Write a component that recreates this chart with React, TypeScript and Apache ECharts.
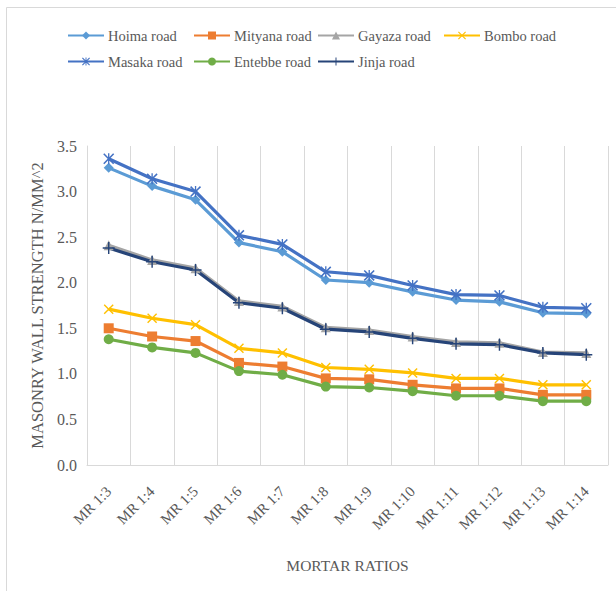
import React, { useEffect, useRef } from "react";
import * as echarts from "echarts";

const categories = [
  "MR 1:3", "MR 1:4", "MR 1:5", "MR 1:6", "MR 1:7", "MR 1:8",
  "MR 1:9", "MR 1:10", "MR 1:11", "MR 1:12", "MR 1:13", "MR 1:14",
];

const hoima = [3.26, 3.06, 2.91, 2.44, 2.34, 2.03, 2.0, 1.9, 1.81, 1.79, 1.67, 1.66];
const mityana = [1.5, 1.41, 1.36, 1.12, 1.08, 0.95, 0.94, 0.88, 0.84, 0.84, 0.77, 0.77];
const gayaza = [2.41, 2.25, 2.16, 1.8, 1.74, 1.51, 1.48, 1.41, 1.35, 1.34, 1.24, 1.23];
const bombo = [1.71, 1.61, 1.54, 1.28, 1.23, 1.07, 1.05, 1.01, 0.95, 0.95, 0.88, 0.88];
const masaka = [3.36, 3.14, 3.0, 2.52, 2.42, 2.12, 2.08, 1.97, 1.87, 1.86, 1.73, 1.72];
const entebbe = [1.38, 1.29, 1.23, 1.03, 0.99, 0.86, 0.85, 0.81, 0.76, 0.76, 0.7, 0.7];
const jinja = [2.38, 2.23, 2.14, 1.78, 1.72, 1.49, 1.46, 1.39, 1.33, 1.32, 1.23, 1.21];

const yTicks = { min: 0, max: 3.5, interval: 0.5 };

// marker shapes
const crossX = "path://M0,1L1,0L5,4L9,0L10,1L6,5L10,9L9,10L5,6L1,10L0,9L4,5Z";
const asterisk =
  "path://M0,1L1,0L5,4L9,0L10,1L6,5L10,9L9,10L5,6L1,10L0,9L4,5Z M4.4,0H5.6V10H4.4Z";
const plus = "path://M4.4,0H5.6V4.4H10V5.6H5.6V10H4.4V5.6H0V4.4H4.4Z";

const FONT = "'Liberation Serif', 'Times New Roman', serif";
const TEXT = "#595959";

// legend entries laid out in two rows
const legendSlots: [string, number, number][] = [
  ["Hoima road", 67, 28],
  ["Mityana road", 193, 28],
  ["Gayaza road", 317, 28],
  ["Bombo road", 443, 28],
  ["Masaka road", 67, 54],
  ["Entebbe road", 193, 54],
  ["Jinja road", 317, 54],
];

export default function App() {
  const ref = useRef<HTMLDivElement>(null);

  useEffect(() => {
    document.body.style.margin = "0";
    const chart = echarts.init(ref.current!, null, { renderer: "svg" });

    const mk = (
      name: string,
      data: number[],
      color: string,
      symbol: string,
      symbolSize: number
    ) => ({
      name,
      type: "line",
      data,
      symbol,
      symbolSize,
      showSymbol: true,
      lineStyle: { color, width: 3.2 },
      itemStyle: { color, borderWidth: 0 },
      emphasis: { disabled: true },
    });

    chart.setOption({
      animation: false,
      textStyle: { fontFamily: FONT },
      graphic: [
        {
          type: "rect",
          shape: { x: 6.5, y: 7.5, width: 640, height: 620 },
          style: { fill: "none", stroke: "#d9d9d9", lineWidth: 1 },
          silent: true,
        },
      ],
      legend: legendSlots.map(([name, left, top]) => ({
        data: [name],
        left,
        top,
        padding: 0,
        itemWidth: 36,
        itemHeight: 10,
        itemGap: 0,
        textStyle: { fontFamily: FONT, fontSize: 14.5, color: TEXT, padding: [0, 0, 0, -1] },
      })),
      grid: { left: 87, right: 8, top: 146, bottom: 126, containLabel: false },
      xAxis: {
        type: "category",
        data: categories,
        boundaryGap: true,
        name: "MORTAR RATIOS",
        nameLocation: "middle",
        nameGap: 92,
        nameTextStyle: { fontFamily: FONT, fontSize: 15.5, color: TEXT },
        axisLine: { show: true, lineStyle: { color: "#d9d9d9", width: 1 } },
        axisTick: { show: false },
        splitLine: { show: true, lineStyle: { color: "#d9d9d9", width: 1 } },
        axisLabel: {
          rotate: 45,
          interval: 0,
          margin: 24,
          fontFamily: FONT,
          fontSize: 15,
          color: TEXT,
        },
      },
      yAxis: {
        type: "value",
        min: yTicks.min,
        max: yTicks.max,
        interval: yTicks.interval,
        name: "MASONRY WALL STRENGTH N/MM^2",
        nameLocation: "middle",
        nameGap: 40,
        nameTextStyle: { fontFamily: FONT, fontSize: 16.5, color: TEXT },
        axisLine: { show: true, lineStyle: { color: "#d9d9d9", width: 1 } },
        axisTick: { show: false },
        splitLine: { show: false },
        axisLabel: {
          margin: 10,
          fontFamily: FONT,
          fontSize: 16,
          color: TEXT,
          formatter: (v: number) => v.toFixed(1),
        },
      },
      series: [
        mk("Hoima road", hoima, "#5B9BD5", "diamond", 10),
        mk("Mityana road", mityana, "#ED7D31", "rect", 10),
        mk("Gayaza road", gayaza, "#A5A5A5", "triangle", 10),
        mk("Bombo road", bombo, "#FFC000", crossX, 10),
        mk("Masaka road", masaka, "#4472C4", asterisk, 11),
        mk("Entebbe road", entebbe, "#70AD47", "circle", 10),
        mk("Jinja road", jinja, "#264478", plus, 12),
      ],
    });

    return () => chart.dispose();
  }, []);

  return <div ref={ref} style={{ width: 616, height: 591 }} />;
}
